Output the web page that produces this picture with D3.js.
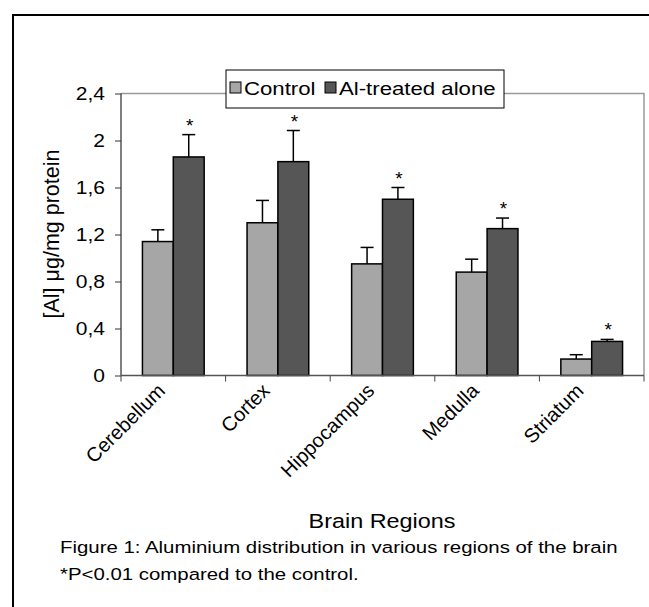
<!DOCTYPE html>
<html>
<head>
<meta charset="utf-8">
<script src="https://cdn.jsdelivr.net/npm/d3@7"></script>
<style>
  body { margin: 0; background: white; }
  text { font-family: "Liberation Sans", Arial, sans-serif; }
</style>
</head>
<body>
<svg id="chart"></svg>
<script>
// data
var regions = ["Cerebellum", "Cortex", "Hippocampus", "Medulla", "Striatum"];
var seriesNames = ["Control", "Al-treated alone"];
var control = [1.14, 1.30, 0.95, 0.88, 0.14];
var controlErr = [0.10, 0.19, 0.14, 0.11, 0.037];
var treated = [1.86, 1.82, 1.50, 1.25, 0.29];
var treatedErr = [0.19, 0.265, 0.10, 0.09, 0.017];
var significant = [true, true, true, true, true];
var yTicks = [0, 0.4, 0.8, 1.2, 1.6, 2, 2.4];

var width = 649;
var height = 607;

// plot area in px
var plotLeft = 121, plotRight = 644, plotTop = 93.5, plotBottom = 375.5;
var stretch = 1.2; // horizontal text in the source looks wide

var colors = ["#a6a6a6", "#565656"];

var svg = d3.select("#chart")
            .attr("width", width)
            .attr("height", height);

var x = d3.scaleBand()
  .domain(regions)
  .range([plotLeft, plotRight])
  .paddingInner(0.41)
  .paddingOuter(0.205);

var xs = d3.scaleBand()
  .domain(seriesNames)
  .range([0, x.bandwidth()]);

var y = d3.scaleLinear()
  .domain([0, 2.4])
  .range([plotBottom, plotTop]);

// outer frame (runs off the right and bottom)
svg.append("rect")
  .attr("x", 13)
  .attr("y", 15)
  .attr("width", 800)
  .attr("height", 800)
  .attr("fill", "none")
  .attr("stroke", "black")
  .attr("stroke-width", 2);

// plot area border, top and right
svg.append("path")
  .attr("d", "M" + plotLeft + "," + plotTop + "H" + plotRight + "V" + plotBottom)
  .attr("fill", "none")
  .attr("stroke", "#9a9a9a")
  .attr("stroke-width", 1.5);

// helper for horizontally stretched text
function htext(g, str, px, py, size, anchor) {
  return g.append("text")
    .text(str)
    .attr("transform", "translate(" + px + "," + py + ") scale(" + stretch + ",1)")
    .attr("font-size", size + "px")
    .attr("text-anchor", anchor || "start");
}

// y axis
var yAxis = svg.append("g")
  .attr("transform", "translate(" + plotLeft + ",0)")
  .call(d3.axisLeft(y).tickValues(yTicks).tickSize(6).tickFormat(""));
yAxis.select(".domain").attr("stroke", "black").attr("d", "M0," + plotTop + "V" + plotBottom);
yAxis.selectAll(".tick line").attr("stroke", "#333");

yTicks.forEach(function (t) {
  htext(svg, d3.format(".1~f")(t).replace(".", ","), 105, y(t), 17.5, "end")
    .attr("dy", ".35em");
});

svg.append("text")
  .text("[Al] \u03bcg/mg protein")
  .attr("font-size", "21.5px")
  .attr("text-anchor", "middle")
  .attr("transform", "translate(59," + 234 + ") rotate(-90)");

// bars
var bars = svg.append("g");

regions.forEach(function (r, i) {
  var vals = [control[i], treated[i]];
  var errs = [controlErr[i], treatedErr[i]];
  vals.forEach(function (v, j) {
    var bx = x(r) + xs(seriesNames[j]);
    var cx = bx + xs.bandwidth() / 2;
    var errTop = y(v + errs[j]);

    bars.append("line")
      .attr("x1", cx).attr("x2", cx)
      .attr("y1", y(v)).attr("y2", errTop)
      .attr("stroke", "black")
      .attr("stroke-width", 1.5);

    bars.append("line")
      .attr("x1", cx - 6.5).attr("x2", cx + 6.5)
      .attr("y1", errTop).attr("y2", errTop)
      .attr("stroke", "black")
      .attr("stroke-width", 1.5);

    bars.append("rect")
      .attr("x", bx)
      .attr("y", y(v))
      .attr("width", xs.bandwidth())
      .attr("height", y(0) - y(v))
      .attr("fill", colors[j])
      .attr("stroke", "black")
      .attr("stroke-width", 1.5);

    if (j == 1 && significant[i]) {
      bars.append("text")
        .text("*")
        .attr("font-size", "19px")
        .attr("text-anchor", "middle")
        .attr("x", cx + 1)
        .attr("y", errTop - 3);
    }
  });
});

// x axis
var xAxis = svg.append("g")
  .attr("transform", "translate(0," + plotBottom + ")");
xAxis.append("line")
  .attr("x1", plotLeft).attr("x2", plotRight)
  .attr("stroke", "#555")
  .attr("stroke-width", 1.5);
d3.range(regions.length + 1).forEach(function (k) {
  var tx = plotLeft + k * x.step();
  xAxis.append("line")
    .attr("x1", tx).attr("x2", tx)
    .attr("y1", 0).attr("y2", 6)
    .attr("stroke", "#444");
});

regions.forEach(function (r) {
  var cx = x(r) + x.bandwidth() / 2;
  svg.append("text")
    .text(r)
    .attr("font-size", "20px")
    .attr("text-anchor", "end")
    .attr("transform", "translate(" + (cx - 7) + ",392) rotate(-45)");
});

// legend
var legend = svg.append("g");
legend.append("rect")
  .attr("x", 226)
  .attr("y", 70)
  .attr("width", 278)
  .attr("height", 38)
  .attr("fill", "white")
  .attr("stroke", "black");

var legendX = [230, 325];
seriesNames.forEach(function (s, j) {
  legend.append("rect")
    .attr("x", legendX[j])
    .attr("y", 82)
    .attr("width", 11)
    .attr("height", 11)
    .attr("fill", colors[j])
    .attr("stroke", "black");
  htext(legend, s, legendX[j] + 14, 94.5, 18.5, "start");
});

// titles and caption
htext(svg, "Brain Regions", 382, 528, 19.5, "middle");
htext(svg, "Figure 1: Aluminium distribution in various regions of the brain", 60, 553, 17, "start");
htext(svg, "*P<0.01 compared to the control.", 60, 580, 17, "start");
</script>
</body>
</html>
